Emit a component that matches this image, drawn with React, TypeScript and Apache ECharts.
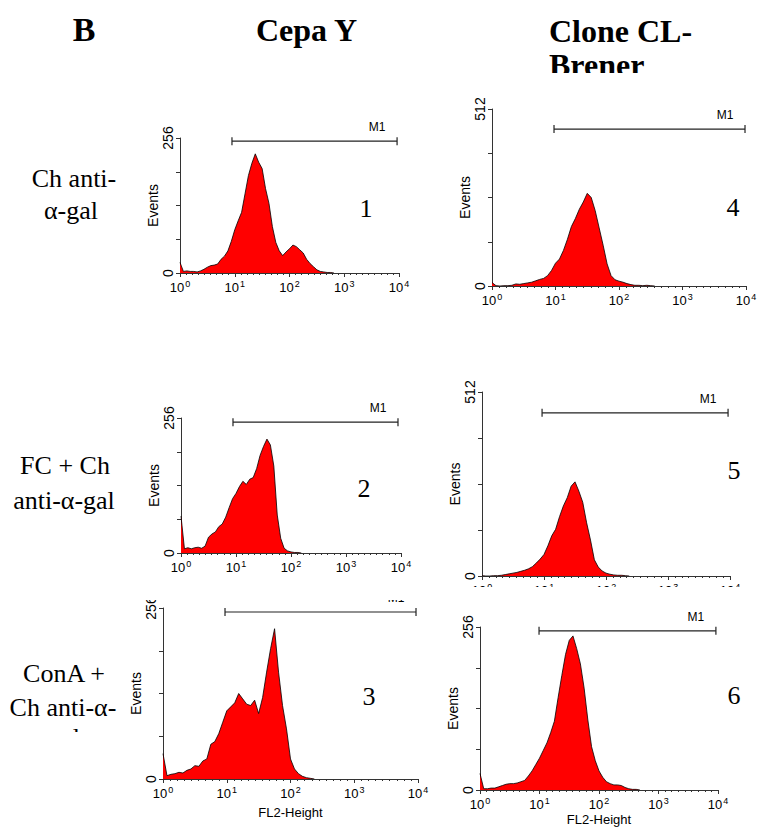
import React, { useEffect, useRef } from "react";
import * as echarts from "echarts";

// ---- data (FL2 channel 0..1023 spans 10^0..10^4) ----
const channels = [0, 16, 32, 48, 64, 80, 96, 112, 128, 144, 160, 176, 192, 208, 224, 240, 256, 272, 288, 304, 320, 336, 352, 368, 384, 400, 416, 432, 448, 464, 480, 496, 512, 528, 544, 560, 576, 592, 608, 624, 640, 656, 672, 688, 704, 720];
const decadeTicks = ["0", "1", "2", "3", "4"];

const countsCepaYChAntiGal = [20, 3, 4, 3, 3, 2, 4, 7, 11, 14, 15, 17, 26, 32, 42, 60, 82, 99, 115, 150, 185, 208, 226, 210, 198, 160, 132, 88, 58, 42, 33, 40, 46, 53, 50, 44, 38, 26, 18, 12, 6, 3, 2, 1, 1, 0];
const countsCloneChAntiGal = [10, 1, 0, 1, 1, 2, 6, 5, 7, 9, 11, 15, 19, 22, 30, 45, 66, 78, 103, 135, 172, 195, 222, 243, 268, 256, 218, 168, 118, 64, 30, 18, 14, 11, 7, 4, 2, 2, 1, 2, 1, 0];
const countsCepaYFc = [70, 8, 10, 8, 10, 11, 9, 13, 30, 36, 40, 50, 55, 68, 86, 103, 113, 126, 136, 130, 140, 143, 160, 185, 202, 216, 205, 165, 72, 28, 9, 4, 2, 1, 1, 0];
const countsCloneFc = [1, 0, 0, 1, 1, 2, 4, 6, 8, 10, 13, 16, 20, 26, 36, 47, 60, 84, 112, 130, 165, 195, 218, 250, 262, 236, 205, 148, 100, 45, 25, 14, 8, 5, 3, 2, 2, 1, 0];
const countsCepaYConA = [38, 5, 7, 8, 10, 9, 13, 15, 20, 19, 27, 30, 52, 56, 68, 85, 102, 108, 114, 128, 120, 112, 110, 118, 98, 122, 160, 195, 225, 160, 110, 75, 30, 15, 8, 4, 2, 1, 0];
const countsCloneConA = [26, 2, 2, 3, 3, 5, 7, 9, 10, 10, 11, 13, 15, 22, 30, 40, 50, 62, 74, 90, 108, 145, 180, 213, 235, 242, 222, 198, 160, 110, 68, 46, 30, 20, 13, 10, 8, 8, 7, 4, 2, 1, 1, 0];

const yMaxes = [256, 512, 256, 512, 256, 256];
// gate M1: [start channel, end channel, level]
const gateP1 = [243, 1015, 250];
const gateP4 = [250, 1020, 454];
const gateP2 = [242, 1010, 248];
const gateP5 = [248, 1016, 454];
const gateP3 = [249, 1016, 250];
const gateP6 = [254, 1015, 250];

const SANS = '"Liberation Sans", Arial, sans-serif';
const SERIF = '"Liberation Serif", "Times New Roman", serif';

const layouts = [
  { left: 180, top: 138, width: 219, height: 135, num: "1", nx: 366, ny: 208, fl2: false, nameGap: 0, evGap: 18 },
  { left: 492, top: 109, width: 254, height: 177, num: "4", nx: 733, ny: 207, fl2: false, nameGap: 0, evGap: 17 },
  { left: 181, top: 418, width: 220, height: 135, num: "2", nx: 364, ny: 488, fl2: false, nameGap: 0, evGap: 19 },
  { left: 482, top: 392, width: 248, height: 184, num: "5", nx: 734, ny: 470, fl2: false, nameGap: 0, evGap: 17 },
  { left: 163, top: 608, width: 255, height: 171, num: "3", nx: 369, ny: 696, fl2: true, nameGap: 27, evGap: 14 },
  { left: 480, top: 627, width: 238, height: 163, num: "6", nx: 734, ny: 695, fl2: true, nameGap: 23, evGap: 15 },
];
const panelCounts = [countsCepaYChAntiGal, countsCloneChAntiGal, countsCepaYFc, countsCloneFc, countsCepaYConA, countsCloneConA];
const panelGates = [gateP1, gateP4, gateP2, gateP5, gateP3, gateP6];

function buildOption(): any {
  const grid: any[] = [];
  const xAxis: any[] = [];
  const yAxis: any[] = [];
  const series: any[] = [];
  const graphic: any[] = [];
  layouts.forEach((L, i) => {
    const yMax = yMaxes[i];
    grid.push({ left: L.left, top: L.top, width: L.width, height: L.height });
    xAxis.push({
      gridIndex: i, type: "value", min: 0, max: 1024, interval: 256,
      axisLine: { show: true, onZero: false, lineStyle: { color: "#333", width: 1 } },
      axisTick: { show: true, length: 4, lineStyle: { color: "#333" } },
      minorTick: { show: true, splitNumber: 9, length: 2, lineStyle: { color: "#333" } },
      splitLine: { show: false },
      axisLabel: {
        margin: 6, color: "#000",
        formatter: (v: number) => `{b|10}{s|${decadeTicks[Math.round(v / 256)]}}`,
        rich: {
          b: { fontFamily: SANS, fontSize: 13, color: "#000", lineHeight: 15, verticalAlign: "bottom" },
          s: { fontFamily: SANS, fontSize: 9, color: "#000", lineHeight: 15, verticalAlign: "top", padding: [0, 0, 6, 1] },
        },
      },
      name: L.fl2 ? "FL2-Height" : "", nameLocation: "middle", nameGap: L.nameGap,
      nameTextStyle: { fontFamily: SANS, fontSize: 13, color: "#000" },
    });
    yAxis.push({
      gridIndex: i, type: "value", min: 0, max: yMax, interval: yMax / 4,
      axisLine: { show: true, lineStyle: { color: "#333", width: 1 } },
      axisTick: { show: true, length: 4, lineStyle: { color: "#333" } },
      splitLine: { show: false },
      axisLabel: {
        rotate: 90, margin: 5, fontFamily: SANS, fontSize: 14, color: "#000",
        formatter: (v: number) => (v === 0 || v === yMax ? String(v) : ""),
      },
      name: "Events", nameLocation: "middle", nameRotate: 90, nameGap: L.evGap,
      nameTextStyle: { fontFamily: SANS, fontSize: 14, color: "#000" },
    });
    const counts = panelCounts[i];
    series.push({
      type: "line", xAxisIndex: i, yAxisIndex: i, silent: true,
      data: counts.map((c, k) => [channels[k], c]),
      symbol: "none", lineStyle: { color: "#000", width: 0.8 },
      areaStyle: { color: "#ff0000", opacity: 1 },
    });
    const g = panelGates[i];
    series.push({
      type: "line", xAxisIndex: i, yAxisIndex: i, silent: true,
      data: [[g[0], g[2]], [g[1], g[2]]],
      symbol: "rect", symbolSize: [1.2, 8], showSymbol: true,
      itemStyle: { color: "#222" }, lineStyle: { color: "#222", width: 1.2 },
      label: {
        show: true, position: "top", distance: 4, offset: [-20, 0],
        fontFamily: SANS, fontSize: 12, color: "#000",
        formatter: (p: any) => (p.dataIndex === 1 ? "M1" : ""),
      },
    });
    graphic.push({
      type: "text", x: L.nx, y: L.ny, z: 50,
      style: { text: L.num, font: `26px ${SERIF}`, fill: "#000", textAlign: "center", textVerticalAlign: "middle" },
    });
  });

  const txt = (text: string, x: number, y: number, font: string, align = "center") => ({
    type: "text", x, y, z: 50,
    style: { text, font, fill: "#000", textAlign: align, textVerticalAlign: "middle" },
  });
  const white = (x: number, y: number, w: number, h: number) => ({
    type: "rect", z: 100, shape: { x, y, width: w, height: h }, style: { fill: "#fff" },
  });

  graphic.push(
    txt("B", 84, 29, `bold 34px ${SERIF}`),
    txt("Cepa Y", 256, 30, `bold 32px ${SERIF}`, "left"),
    txt("Clone CL-", 549, 31, `bold 32px ${SERIF}`, "left"),
    txt("Brener", 549, 65, `bold 32px ${SERIF}`, "left"),
    white(540, 73, 160, 25),
    txt("Ch anti-", 74, 178, `26px ${SERIF}`),
    txt("α-gal", 71, 210, `26px ${SERIF}`),
    txt("FC + Ch", 65, 465, `26px ${SERIF}`),
    txt("anti-α-gal", 64, 500, `26px ${SERIF}`),
    txt("ConA +", 64, 673, `26px ${SERIF}`),
    txt("Ch anti-α-", 63, 707, `26px ${SERIF}`),
    txt("gal", 64, 737, `26px ${SERIF}`),
    white(5, 732, 128, 30),
    white(135, 585, 300, 15),
    white(445, 587, 318, 12),
  );

  return { animation: false, backgroundColor: "#fff", grid, xAxis, yAxis, series, graphic };
}

export default function App() {
  const ref = useRef<HTMLDivElement>(null);
  useEffect(() => {
    const chart = echarts.init(ref.current as HTMLDivElement, null, { renderer: "svg" });
    chart.setOption(buildOption());
    return () => chart.dispose();
  }, []);
  return (
    <div
      ref={ref}
      style={{ position: "absolute", left: 0, top: 0, width: 763, height: 831, background: "#fff" }}
    />
  );
}
